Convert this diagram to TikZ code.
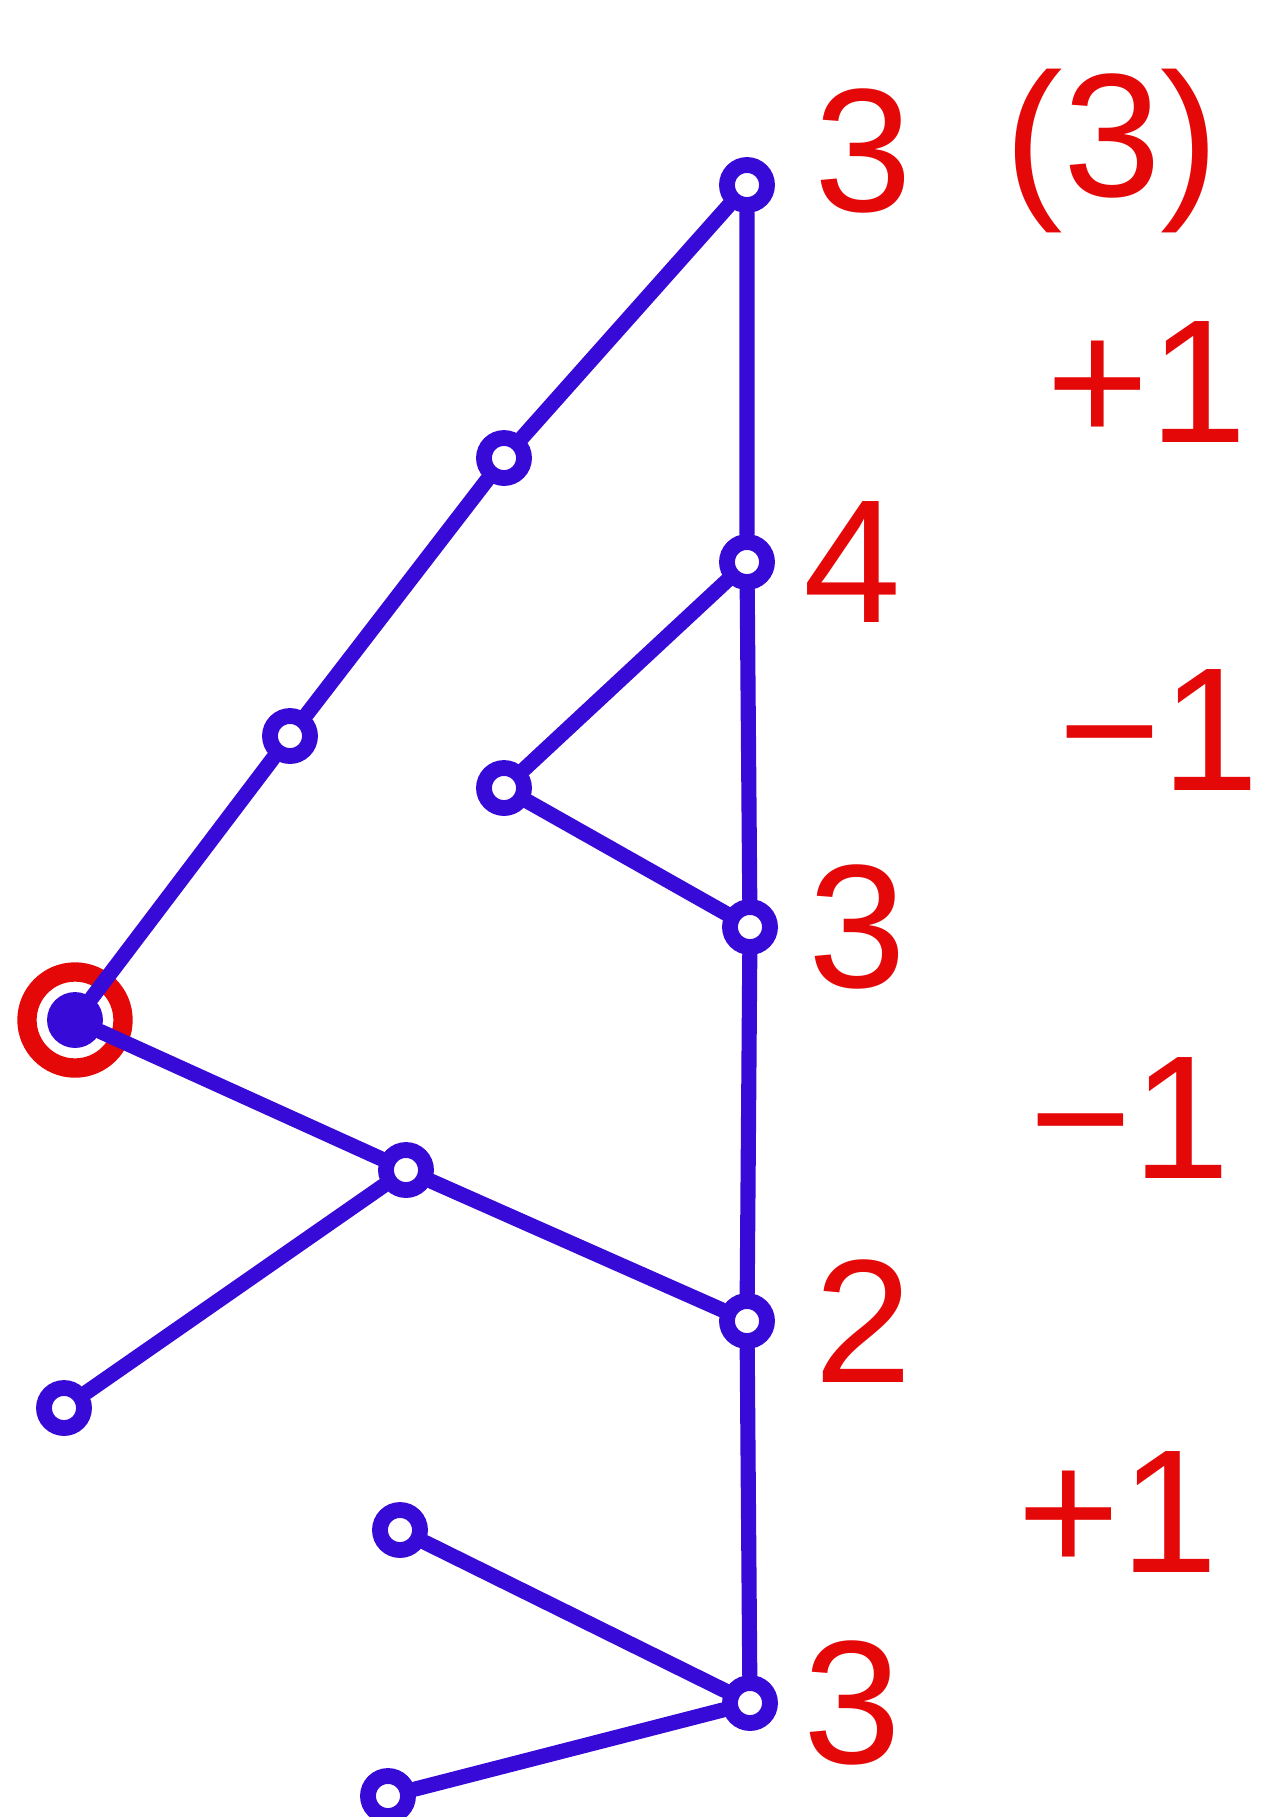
\documentclass[tikz,border=0pt]{standalone}
\usepackage{fontspec}
\setmainfont{Liberation Sans}
\usepackage{xcolor}
\usepackage{tikz}
\usetikzlibrary{calc, positioning}

\definecolor{penblue}{RGB}{55,10,215}
\definecolor{penred}{RGB}{228,8,8}

\begin{document}
\begin{tikzpicture}[x=0.01cm, y=-0.01cm,
    vtx/.style={circle, draw=penblue, line width=4.5pt, inner sep=0pt, minimum size=0.4cm},
    edge/.style={penblue, line width=4.3pt, line cap=round},
    lab/.style={penred, font=\fontsize{50}{60}\selectfont, inner sep=0pt}]
    % Cadre de la figure
    \useasboundingbox (0,0) rectangle (1270,1817);

    % Sommets de la colonne de droite
    \node[vtx] (t3a) at (747,185) {};
    \node[vtx] (t4)  at (747,562) {};
    \node[vtx] (t3b) at (750,927) {};
    \node[vtx] (t2)  at (747,1321) {};
    \node[vtx] (t3c) at (750,1703) {};

    % Chemin vers la racine et autres feuilles
    \node[vtx] (p1) at (504,458) {};
    \node[vtx] (p2) at (290,736) {};
    \node[vtx, fill=penblue] (root) at (75,1020) {};
    \node[vtx] (q1) at (504,788) {};
    \node[vtx] (m)  at (406,1170) {};
    \node[vtx] (q2) at (64,1408) {};
    \node[vtx] (q3) at (400,1530) {};
    \node[vtx] (q4) at (388,1796) {};

    % Racine entourée en rouge
    \draw[penred, line width=5.5pt] (root) circle (0.48cm);

    % Arêtes
    \draw[edge] (t3a) -- (t4) -- (t3b) -- (t2) -- (t3c);
    \draw[edge] (t3a) -- (p1) -- (p2) -- (root);
    \draw[edge] (t4) -- (q1) -- (t3b);
    \draw[edge] (root) -- (m) -- (t2);
    \draw[edge] (m) -- (q2);
    \draw[edge] (q3) -- (t3c) -- (q4);

    % Valeurs et différences
    \node[lab] (v3a) at (863,151) {3};
    \node[lab] (v3p) at (1112,151) {(3)};
    \node[lab] (d1)  at (1147,382) {+1};
    \node[lab] (v4)  at (852,562) {4};
    \node[lab] (d2)  at (1159,730) {−1};
    \node[lab] (v3b) at (857,927) {3};
    \node[lab] (d3)  at (1130,1118) {−1};
    \node[lab] (v2)  at (863,1321) {2};
    \node[lab] (d4)  at (1118,1512) {+1};
    \node[lab] (v3c) at (852,1703) {3};
\end{tikzpicture}
\end{document}
